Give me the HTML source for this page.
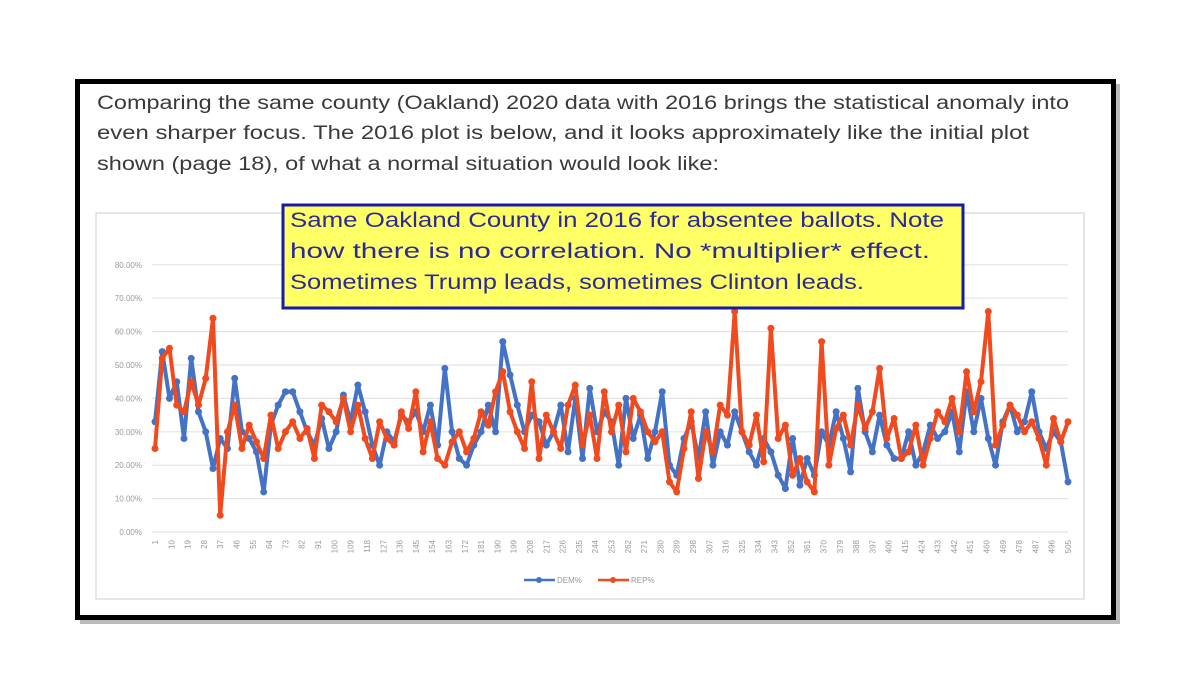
<!DOCTYPE html>
<html><head><meta charset="utf-8"><style>
html,body{margin:0;padding:0;background:#fff;width:1200px;height:697px;overflow:hidden}
svg{display:block}
</style></head><body>
<svg id="root" width="1200" height="697" viewBox="0 0 1200 697" xmlns="http://www.w3.org/2000/svg">
<rect x="80" y="84" width="1040" height="540" fill="#777" opacity="0.5"/>
<rect x="77.5" y="81.5" width="1036" height="536" fill="#fff" stroke="#000" stroke-width="5"/>
<g font-family="Liberation Sans, sans-serif" font-size="19" fill="#3a3a3a">
<text x="97" y="109" textLength="972" lengthAdjust="spacingAndGlyphs">Comparing the same county (Oakland) 2020 data with 2016 brings the statistical anomaly into</text>
<text x="97" y="139" textLength="932" lengthAdjust="spacingAndGlyphs">even sharper focus. The 2016 plot is below, and it looks approximately like the initial plot</text>
<text x="97" y="170" textLength="622" lengthAdjust="spacingAndGlyphs">shown (page 18), of what a normal situation would look like:</text>
</g>
<rect x="96" y="213" width="988" height="386" fill="#fff" stroke="#ddd" stroke-width="1.5"/>
<g id="grid"></g>
<g id="ylabels" font-family="Liberation Sans, sans-serif" font-size="8" fill="#999" text-anchor="end"></g>
<g id="xlabels" font-family="Liberation Sans, sans-serif" font-size="8" fill="#999"></g>
<g id="series"></g>
<g font-family="Liberation Sans, sans-serif" font-size="8" fill="#999">
<g><line x1="524" y1="580" x2="555" y2="580" stroke="#4472c4" stroke-width="2.5"/><circle cx="539" cy="580" r="3" fill="#4472c4"/><text x="557" y="583">DEM%</text></g>
<g><line x1="598" y1="580" x2="629" y2="580" stroke="#f04a1e" stroke-width="2.5"/><circle cx="613" cy="580" r="3" fill="#f04a1e"/><text x="631" y="583">REP%</text></g>
</g>
<g>
<rect x="283" y="205" width="680" height="103" fill="#ffff66" stroke="#1a1aa8" stroke-width="3"/>
<g font-family="Liberation Sans, sans-serif" font-size="21" fill="#2a2a9a">
<text x="290" y="227" textLength="654" lengthAdjust="spacingAndGlyphs">Same Oakland County in 2016 for absentee ballots.  Note</text>
<text x="290" y="258" textLength="640" lengthAdjust="spacingAndGlyphs">how there is no correlation.  No *multiplier* effect.</text>
<text x="290" y="289" textLength="574" lengthAdjust="spacingAndGlyphs">Sometimes Trump leads, sometimes Clinton leads.</text>
</g>
</g>
</svg>
<script>
const yTicks = [0,10,20,30,40,50,60,70,80];
const xTickLabels = [];
for (let p = 1; p <= 505; p += 9) xTickLabels.push(p);
const precincts = [];
for (let p = 1; p <= 505; p += 4) precincts.push(p);
const repValues = [25,52,55,38,36,45,38,46,64,5,
30,38,25,32,27,22,35,25,30,33,
28,31,22,38,36,33,40,30,38,28,
22,33,28,26,36,31,42,24,33,22,
20,27,30,24,28,36,32,42,48,36,
30,25,45,22,35,30,25,38,44,26,
35,22,42,30,38,24,40,36,30,27,
30,15,12,25,36,16,30,24,38,35,
66,30,26,35,21,61,28,32,17,22,
15,12,57,20,31,35,26,38,31,36,
49,28,34,22,24,32,20,28,36,33,
40,30,48,36,45,66,26,32,38,35,
30,33,28,20,34,27,33];
const demValues = [33,54,40,45,28,52,36,30,19,28,
25,46,30,28,24,12,32,38,42,42,
36,30,26,34,25,30,41,33,44,36,
26,20,30,27,35,33,36,30,38,26,
49,30,22,20,26,30,38,30,57,47,
38,30,35,33,26,30,38,24,40,22,
43,30,36,33,20,40,28,35,22,30,
42,20,17,28,33,22,36,20,30,26,
36,30,24,20,28,24,17,13,28,14,
22,17,30,26,36,28,18,43,30,24,
35,26,22,22,30,20,24,32,28,30,
36,24,42,30,40,28,20,33,38,30,
33,42,30,25,30,27,15];

const NS = 'http://www.w3.org/2000/svg';
const X0 = 155, X1 = 1068, Y0 = 532, YPER = 3.34;
function xs(p){ return X0 + (p - 1) / 504 * (X1 - X0); }
function ys(v){ return Y0 - v * YPER; }
function mk(tag, attrs){ const e = document.createElementNS(NS, tag); for (const k in attrs) e.setAttribute(k, attrs[k]); return e; }

const grid = document.getElementById('grid');
const yl = document.getElementById('ylabels');
yTicks.forEach(t => {
  const l = mk('line', {x1: 152, x2: 1068, y1: ys(t), y2: ys(t), stroke: '#e4e4e4', 'stroke-width': 1.2});
  
  
  grid.appendChild(l);
  const tx = mk('text', {x: 142, y: ys(t) + 3});
  tx.textContent = t.toFixed(2) + '%';
  
  
  yl.appendChild(tx);
});
const xl = document.getElementById('xlabels');
xTickLabels.forEach(p => {
  const x = xs(p);
  const tx = mk('text', {x: 0, y: 0, transform: 'translate(' + (x + 3) + ',540) rotate(-90)', 'text-anchor': 'end'});
  tx.textContent = p;
  
  
  xl.appendChild(tx);
});
const series = document.getElementById('series');
function drawSeries(vals, color, name){
  const g = mk('g', {});
  
  
  const pts = vals.map((v, i) => xs(precincts[i]).toFixed(1) + ',' + ys(v).toFixed(1)).join(' ');
  const pl = mk('polyline', {points: pts, fill: 'none', stroke: color, 'stroke-width': 4, 'stroke-linejoin': 'round'});
  
  
  g.appendChild(pl);
  vals.forEach((v, i) => {
    const c = mk('circle', {cx: xs(precincts[i]), cy: ys(v), r: 3.5, fill: color});
    
    
    g.appendChild(c);
  });
  series.appendChild(g);
}
drawSeries(demValues, '#4472c4', 'dem-series');
drawSeries(repValues, '#f04a1e', 'rep-series');
</script>
</body></html>
